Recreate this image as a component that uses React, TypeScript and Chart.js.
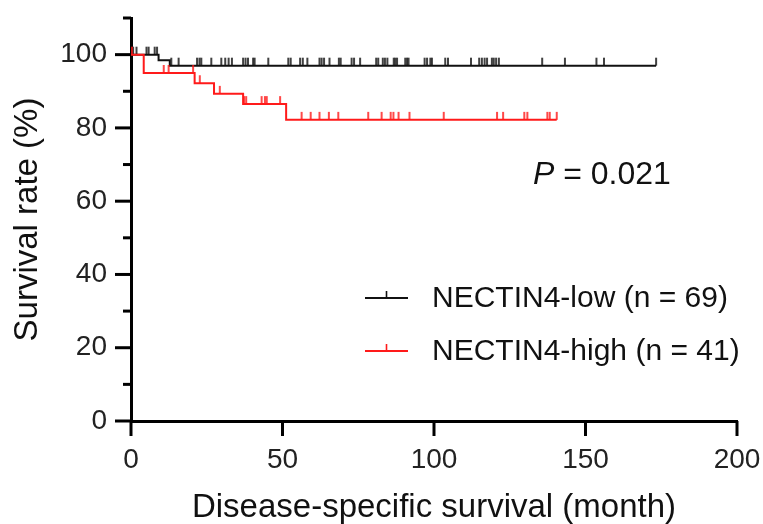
import React, { useEffect, useRef } from "react";
import { Chart, registerables } from "chart.js";

Chart.register(...registerables);

// ---- Data ----
const xTickValues = [0, 50, 100, 150, 200];
const yLabelValues = [0, 20, 40, 60, 80, 100];
const yMinorValues = [0, 10, 20, 30, 40, 50, 60, 70, 80, 90, 100, 110];

const lowLabel = "NECTIN4-low (n = 69)";
const highLabel = "NECTIN4-high (n = 41)";
const pLetter = "P";
const pRest = " = 0.021";

const xTitle = "Disease-specific survival (month)";
const yTitle = "Survival rate (%)";

// NECTIN4-low step curve (time in months, survival %)
const lowStepTimes = [0, 9.1, 12.8, 173.3];
const lowStepSurv = [100, 98.5, 97.0, 97.0];
const lowCensorTimes = [
  0.7, 1.8, 5.1, 5.8, 7.8, 8.6,
  13.3, 15.7, 21.8, 22.6, 23.2, 26.5, 29.8, 31.1, 32.2, 33.3, 37.0, 37.8, 38.6, 40.3, 40.8,
  45.3, 51.9, 52.7, 55.8, 56.7, 58.2, 62.2, 62.9, 63.7, 65.5, 68.6, 69.2, 72.8, 73.6, 75.6,
  80.9, 81.6, 83.1, 83.8, 84.6,
  86.7, 87.2, 87.8, 90.5, 91.1, 91.6, 96.9, 97.7, 98.8, 99.3, 103.7, 104.6, 112.2,
  114.9, 115.8, 116.7, 117.5, 119.1, 119.7, 120.5, 121.4,
  135.7, 143.2, 153.6, 156.1, 173.3,
];

// NECTIN4-high step curve
const highStepTimes = [0, 4.2, 21.0, 27.4, 37.0, 51.2, 140.5];
const highStepSurv = [100, 95.0, 92.2, 89.3, 86.5, 82.2, 82.2];
const highCensorTimes = [
  0.3,
  10.8, 12.4, 20.5,
  22.7,
  29.3,
  37.3, 38.0, 43.1, 44.2, 44.8, 49.2,
  56.3, 59.3, 62.2, 65.3, 68.4, 78.3, 82.7, 85.7, 86.6, 88.3, 91.9, 103.2,
  120.8, 122.8, 129.8, 130.8, 137.4, 138.2, 140.5,
];

const LOW_COLOR = "#111111";
const HIGH_COLOR = "#ff1a1a";
const FONT = "'Liberation Sans', Arial, sans-serif";

function survivalAt(times: number[], surv: number[], t: number): number {
  let v = surv[0];
  for (let i = 0; i < times.length; i++) {
    if (times[i] <= t) v = surv[i];
  }
  return v;
}

function makeCensorMark(color: string): HTMLCanvasElement {
  const c = document.createElement("canvas");
  c.width = 4;
  c.height = 18;
  const ctx = c.getContext("2d")!;
  ctx.strokeStyle = color;
  ctx.lineWidth = 1.6;
  ctx.beginPath();
  ctx.moveTo(2, 1);
  ctx.lineTo(2, 9);
  ctx.stroke();
  return c;
}

function zeroPadding(scale: any) {
  scale.paddingLeft = 0;
  scale.paddingRight = 0;
  scale.paddingTop = 0;
  scale.paddingBottom = 0;
}

const axisTicksPlugin = {
  id: "axisTicks",
  afterDraw(chart: any) {
    const { ctx, scales, chartArea } = chart;
    const xs = scales.x;
    const ys = scales.y;
    ctx.save();
    ctx.strokeStyle = "#000";
    ctx.lineWidth = 3;
    ctx.lineCap = "butt";
    yMinorValues.forEach((v) => {
      const py = ys.getPixelForValue(v);
      const major = yLabelValues.includes(v);
      const len = major ? 16 : 8;
      ctx.beginPath();
      ctx.moveTo(chartArea.left - len, py);
      ctx.lineTo(chartArea.left, py);
      ctx.stroke();
    });
    xTickValues.forEach((v) => {
      const px = xs.getPixelForValue(v);
      ctx.beginPath();
      ctx.moveTo(px, chartArea.bottom);
      ctx.lineTo(px, chartArea.bottom + 15);
      ctx.stroke();
    });
    ctx.restore();
  },
};

const annotationPlugin = {
  id: "kmAnnotations",
  afterDraw(chart: any) {
    const { ctx } = chart;
    ctx.save();
    const items = [
      { label: lowLabel, color: LOW_COLOR, y: 298 },
      { label: highLabel, color: HIGH_COLOR, y: 351 },
    ];
    items.forEach((it) => {
      ctx.strokeStyle = it.color;
      ctx.lineWidth = 2;
      ctx.beginPath();
      ctx.moveTo(365, it.y);
      ctx.lineTo(408, it.y);
      ctx.stroke();
      ctx.lineWidth = 1.6;
      ctx.beginPath();
      ctx.moveTo(386.5, it.y);
      ctx.lineTo(386.5, it.y - 7);
      ctx.stroke();
      ctx.fillStyle = "#111";
      ctx.font = `30px ${FONT}`;
      ctx.textBaseline = "alphabetic";
      ctx.textAlign = "left";
      ctx.fillText(it.label, 432, it.y + 9);
    });
    ctx.fillStyle = "#111";
    ctx.font = `italic 32px ${FONT}`;
    ctx.textBaseline = "alphabetic";
    ctx.fillText(pLetter, 533, 184);
    const w = ctx.measureText(pLetter).width;
    ctx.font = `32px ${FONT}`;
    ctx.fillText(pRest, 533 + w, 184);
    ctx.restore();
  },
};

export default function App() {
  const canvasRef = useRef<HTMLCanvasElement | null>(null);

  useEffect(() => {
    if (!canvasRef.current) return;
    const lowCurve = lowStepTimes.map((t, i) => ({ x: t, y: lowStepSurv[i] }));
    const highCurve = highStepTimes.map((t, i) => ({ x: t, y: highStepSurv[i] }));
    const lowCensor = lowCensorTimes.map((t) => ({ x: t, y: survivalAt(lowStepTimes, lowStepSurv, t) }));
    const highCensor = highCensorTimes.map((t) => ({ x: t, y: survivalAt(highStepTimes, highStepSurv, t) }));

    const chart = new Chart(canvasRef.current, {
      type: "line",
      data: {
        datasets: [
          {
            label: highLabel + " censored",
            data: highCensor,
            showLine: false,
            pointStyle: makeCensorMark(HIGH_COLOR) as any,
            pointRadius: 4,
            borderColor: HIGH_COLOR,
            backgroundColor: HIGH_COLOR,
          },
          {
            label: highLabel,
            data: highCurve,
            stepped: "before",
            borderColor: HIGH_COLOR,
            borderWidth: 2,
            pointRadius: 0,
            fill: false,
          },
          {
            label: lowLabel + " censored",
            data: lowCensor,
            showLine: false,
            pointStyle: makeCensorMark(LOW_COLOR) as any,
            pointRadius: 4,
            borderColor: LOW_COLOR,
            backgroundColor: LOW_COLOR,
          },
          {
            label: lowLabel,
            data: lowCurve,
            stepped: "before",
            borderColor: LOW_COLOR,
            borderWidth: 2,
            pointRadius: 0,
            fill: false,
          },
        ],
      },
      options: {
        animation: false,
        responsive: false,
        devicePixelRatio: 1,
        events: [],
        layout: { padding: { left: 0, top: 18, right: 26, bottom: 0 } },
        plugins: {
          legend: { display: false },
          tooltip: { enabled: false },
        },
        scales: {
          x: {
            type: "linear",
            min: 0,
            max: 200,
            afterBuildTicks: (scale: any) => {
              scale.ticks = xTickValues.map((v) => ({ value: v }));
            },
            afterFit: (scale: any) => {
              scale.height = 103;
              zeroPadding(scale);
            },
            grid: { drawOnChartArea: false, drawTicks: false },
            border: { display: true, color: "#000", width: 3 },
            ticks: {
              color: "#222",
              padding: 22,
              maxRotation: 0,
              font: { family: FONT, size: 28, lineHeight: 1.2 },
            },
            title: {
              display: true,
              text: xTitle,
              color: "#111",
              font: { family: FONT, size: 33, lineHeight: 1 },
              padding: { top: 0, bottom: 0 },
            },
          },
          y: {
            type: "linear",
            min: 0,
            max: 110,
            afterBuildTicks: (scale: any) => {
              scale.ticks = yLabelValues.map((v) => ({ value: v }));
            },
            afterFit: (scale: any) => {
              scale.width = 131;
              zeroPadding(scale);
            },
            grid: { drawOnChartArea: false, drawTicks: false },
            border: { display: true, color: "#000", width: 3 },
            ticks: {
              color: "#222",
              padding: 24,
              font: { family: FONT, size: 28, lineHeight: 1.2 },
            },
            title: {
              display: true,
              text: yTitle,
              color: "#111",
              font: { family: FONT, size: 33, lineHeight: 1 },
              padding: { top: 11, bottom: 0 },
            },
          },
        },
      },
      plugins: [axisTicksPlugin, annotationPlugin],
    } as any);

    return () => {
      chart.destroy();
    };
  }, []);

  return (
    <div
      style={{
        position: "absolute",
        left: 0,
        top: 0,
        width: 763,
        height: 524,
        background: "#fff",
      }}
    >
      <canvas ref={canvasRef} width={763} height={524} style={{ width: 763, height: 524 }} />
    </div>
  );
}
